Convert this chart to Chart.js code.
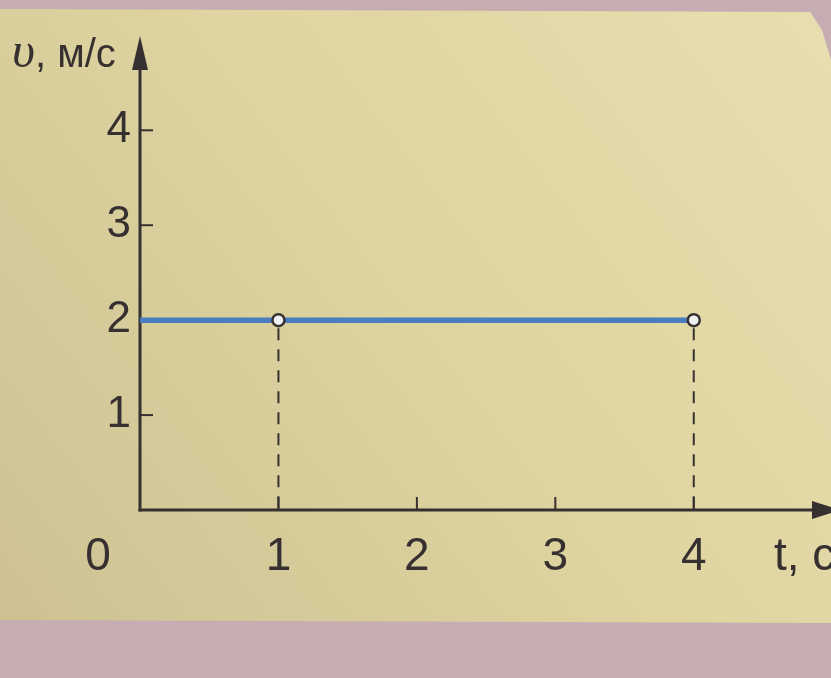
<!DOCTYPE html>
<html><head><meta charset="utf-8">
<script src="https://cdn.jsdelivr.net/npm/chart.js@4.4.0/dist/chart.umd.min.js"></script>
<style>html,body{margin:0;padding:0;background:#c3a9ae;overflow:hidden}</style>
</head><body>
<canvas id="c" width="831" height="678"></canvas>
<script>
const lineT = [0, 1, 4];
const lineV = [2, 2, 2];
const markerT = [1, 4];
const markerV = [2, 2];
const dropT = [1, 4];
const xTickValues = [1, 2, 3, 4];
const yTickValues = [1, 2, 3, 4];
const originLabel = '0';
const yTitleSymbol = 'υ';
const yTitleUnit = ', м/с';
const xTitleSymbol = 't';
const xTitleUnit = ', с';

const INK = '#363030';
const BLUE = '#4a7cc0';

const lineData = lineT.map((t, i) => ({x: t, y: lineV[i]}));
const markerData = markerT.map((t, i) => ({x: t, y: markerV[i]}));
const dropSets = dropT.map((t, i) => ({
  data: [{x: t, y: markerV[i]}, {x: t, y: 0}],
  showLine: true,
  borderColor: INK, borderWidth: 2, borderDash: [12, 9], borderDashOffset: -8,
  pointRadius: 0, fill: false, order: 3
}));

const bgPlugin = {
  id: 'bg',
  beforeDraw(chart) {
    const c = chart.ctx;
    c.save();
    c.fillStyle = '#c6adb2';
    c.fillRect(0, 0, chart.width, chart.height);
    const g = c.createLinearGradient(831, 0, 0, 640);
    g.addColorStop(0, '#e8dfb0');
    g.addColorStop(0.5, '#ddd4a0');
    g.addColorStop(1, '#cdc192');
    c.fillStyle = g;
    c.beginPath();
    c.moveTo(0, 9); c.lineTo(810, 12); c.lineTo(822, 30);
    c.lineTo(831, 60); c.lineTo(831, 623); c.lineTo(0, 620); c.closePath();
    c.fill();
    c.restore();
  }
};

const axesPlugin = {
  id: 'axes',
  beforeDatasetsDraw(chart) {
    const c = chart.ctx, xs = chart.scales.x, ys = chart.scales.y;
    const x0 = xs.getPixelForValue(0), y0 = ys.getPixelForValue(0);
    c.save();
    c.strokeStyle = INK; c.fillStyle = INK; c.lineWidth = 3; c.lineCap = 'butt';
    // y axis
    c.beginPath(); c.moveTo(x0, y0 + 1.5); c.lineTo(x0, 60); c.stroke();
    c.beginPath(); c.moveTo(x0, 36); c.lineTo(x0 - 8, 70); c.lineTo(x0 + 8, 70); c.closePath(); c.fill();
    // x axis
    c.beginPath(); c.moveTo(x0 - 1.5, y0); c.lineTo(820, y0); c.stroke();
    c.beginPath(); c.moveTo(840, y0); c.lineTo(812, y0 - 9); c.lineTo(812, y0 + 9); c.closePath(); c.fill();
    // tick marks
    c.lineWidth = 2;
    yTickValues.forEach(v => { const p = ys.getPixelForValue(v); c.beginPath(); c.moveTo(x0, p); c.lineTo(x0 + 13, p); c.stroke(); });
    xTickValues.forEach(v => { const p = xs.getPixelForValue(v); c.beginPath(); c.moveTo(p, y0); c.lineTo(p, y0 - 13); c.stroke(); });
    // origin label
    c.font = '46px "Liberation Sans", Arial, sans-serif';
    c.textAlign = 'center'; c.textBaseline = 'alphabetic';
    c.fillText(originLabel, x0 - 42, 570);
    // y title
    c.textAlign = 'left';
    c.font = 'italic 50px "Liberation Serif", serif';
    c.fillText(yTitleSymbol, 12, 67);
    const w1 = c.measureText(yTitleSymbol).width;
    c.font = '40px "Liberation Sans", Arial, sans-serif';
    c.fillText(yTitleUnit, 12 + w1, 67);
    // x title
    c.font = '46px "Liberation Sans", Arial, sans-serif';
    c.fillText(xTitleSymbol, 774, 570);
    const w2 = c.measureText(xTitleSymbol).width;
    c.fillText(xTitleUnit, 774 + w2, 570);
    c.restore();
  }
};

new Chart(document.getElementById('c'), {
  type: 'scatter',
  data: {
    datasets: [
      {data: lineData, showLine: true, borderColor: BLUE, borderWidth: 5.5, pointRadius: 0, order: 2},
      {data: markerData, showLine: false, pointRadius: 6, pointBorderWidth: 2.5,
       pointBackgroundColor: '#eef0f2', pointBorderColor: INK, order: 1},
      ...dropSets
    ]
  },
  options: {
    responsive: false, devicePixelRatio: 1, animation: false,
    layout: {padding: {top: 42, right: 0, left: 0, bottom: 0}},
    plugins: {legend: {display: false}, tooltip: {enabled: false}},
    scales: {
      x: {
        type: 'linear', min: 0, max: 4.93,
        afterBuildTicks: s => { s.ticks = xTickValues.map(v => ({value: v})); },
        afterFit: s => { s.height = 168; },
        grid: {display: false, drawTicks: false}, border: {display: false},
        ticks: {color: INK, padding: 20, maxRotation: 0, autoSkip: false,
                font: {family: '"Liberation Sans", Arial, sans-serif', size: 46}}
      },
      y: {
        min: 0, max: 4.93,
        afterBuildTicks: s => { s.ticks = yTickValues.map(v => ({value: v})); },
        afterFit: s => { s.width = 140; },
        grid: {display: false, drawTicks: false}, border: {display: false},
        ticks: {color: INK, padding: 9, autoSkip: false,
                font: {family: '"Liberation Sans", Arial, sans-serif', size: 44}}
      }
    }
  },
  plugins: [bgPlugin, axesPlugin]
});
</script>
</body></html>
